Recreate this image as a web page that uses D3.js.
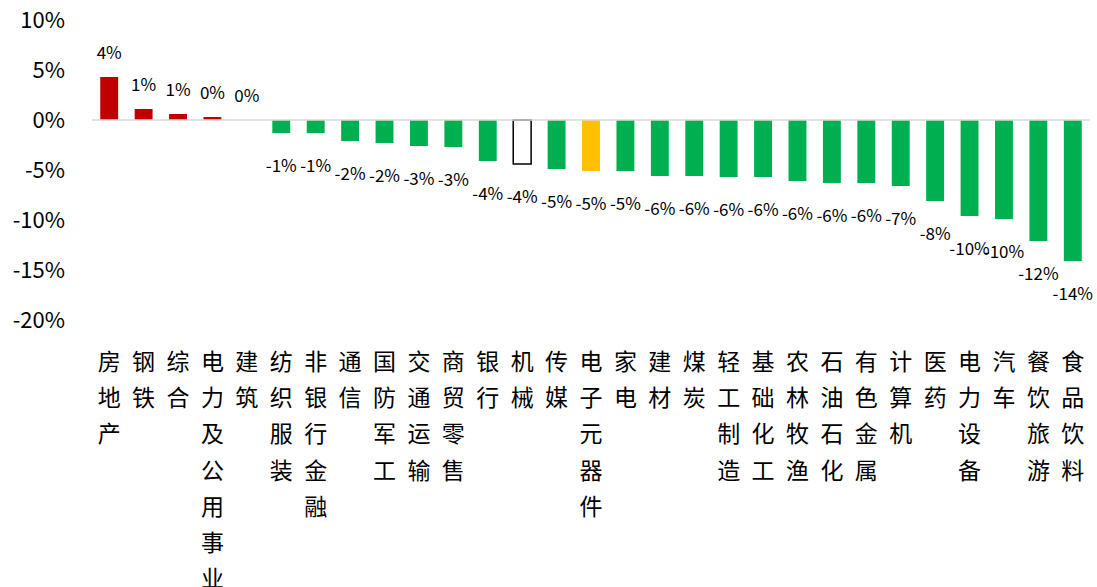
<!DOCTYPE html>
<html>
<head>
<meta charset="utf-8">
<script src="https://cdn.jsdelivr.net/npm/d3@7"></script>
<style>
  body { margin: 0; background: #fff; }
  svg { display: block; font-family: "Noto Sans CJK SC", "Noto Sans", sans-serif; }
</style>
</head>
<body>
<svg id="chart" width="1097" height="587"></svg>
<script>
const categories = ['房地产','钢铁','综合','电力及公用事业','建筑','纺织服装','非银行金融','通信','国防军工','交通运输',
  '商贸零售','银行','机械','传媒','电子元器件','家电','建材','煤炭','轻工制造','基础化工',
  '农林牧渔','石油石化','有色金属','计算机','医药','电力设备','汽车','餐饮旅游','食品饮料'];
const values = [4.3, 1.1, 0.6, 0.3, 0.0, -1.3, -1.3, -2.1, -2.3, -2.6,
  -2.7, -4.1, -4.4, -4.9, -5.1, -5.1, -5.6, -5.6, -5.7, -5.7,
  -6.1, -6.3, -6.3, -6.6, -8.1, -9.6, -9.9, -12.1, -14.1];
const yTicks = [10, 5, 0, -5, -10, -15, -20];

// special bars
const highlight = { '机械': 'outline', '电子元器件': 'yellow' };

const opts = {
  xLeft: 92, xRight: 1090, yTop: 20, yBottom: 320,
  red: '#C00000', green: '#00B050', yellow: '#FFC000'
};

const svg = d3.select('#chart');

const x = d3.scaleBand()
  .domain(categories)
  .range([opts.xLeft, opts.xRight])
  .paddingInner(0.48)
  .paddingOuter(0.24);

const y = d3.scaleLinear()
  .domain([-20, 10])
  .range([opts.yBottom, opts.yTop]);

// y tick labels (no axis line)
svg.append('g').attr('id', 'ticks-v')
  .selectAll('text')
  .data(yTicks)
  .join('text')
    .attr('x', 65)
    .attr('y', d => y(d))
    .attr('dy', '0.35em')
    .attr('text-anchor', 'end')
    .attr('font-size', 22)
    .attr('fill', '#000')
    .text(d => d + '%');

function barColor(c, v){
  if(highlight[c] === 'outline') return '#fff';
  if(highlight[c] === 'yellow') return opts.yellow;
  return v >= 0 ? opts.red : opts.green;
}

const data = categories.map((c, i) => ({c: c, v: values[i]}));

svg.append('g').attr('id', 'bars')
  .selectAll('rect')
  .data(data)
  .join('rect')
    .attr('x', d => x(d.c))
    .attr('width', x.bandwidth())
    .attr('y', d => y(Math.max(0, d.v)))
    .attr('height', d => Math.abs(y(d.v) - y(0)))
    .attr('fill', d => barColor(d.c, d.v))
    .attr('stroke', d => highlight[d.c] === 'outline' ? '#000' : 'none')
    .attr('stroke-width', 1.5);

// zero line
svg.append('line')
  .attr('x1', opts.xLeft).attr('x2', opts.xRight)
  .attr('y1', y(0)).attr('y2', y(0))
  .attr('stroke', '#D9D9D9')
  .attr('stroke-width', 1.5);

// data labels (plain hyphen like the source)
const fmt = v => Math.round(v).toString().replace('−', '-') + '%';
svg.append('g').attr('id', 'labels')
  .selectAll('text')
  .data(data)
  .join('text')
    .attr('x', d => x(d.c) + x.bandwidth() / 2)
    .attr('y', d => d.v >= 0 ? y(d.v) - 24 : y(d.v) + 33)
    .attr('dy', '0.35em')
    .attr('text-anchor', 'middle')
    .attr('font-size', 17)
    .attr('fill', '#000')
    .text(d => fmt(d.v) === '-0%' ? '0%' : fmt(d.v));

// category labels, one character per line
const cat = svg.append('g').attr('id', 'ticks-h')
  .selectAll('text')
  .data(categories)
  .join('text')
    .attr('x', d => x(d) + x.bandwidth() / 2)
    .attr('y', 362)
    .attr('text-anchor', 'middle')
    .attr('font-size', 23)
    .attr('fill', '#000');

cat.selectAll('tspan')
  .data(d => Array.from(d))
  .join('tspan')
    .attr('x', function(){ return d3.select(this.parentNode).attr('x'); })
    .attr('y', (d, i) => 362 + i * 36.2)
    .attr('dy', '0.35em')
    .text(d => d);
</script>
</body>
</html>
